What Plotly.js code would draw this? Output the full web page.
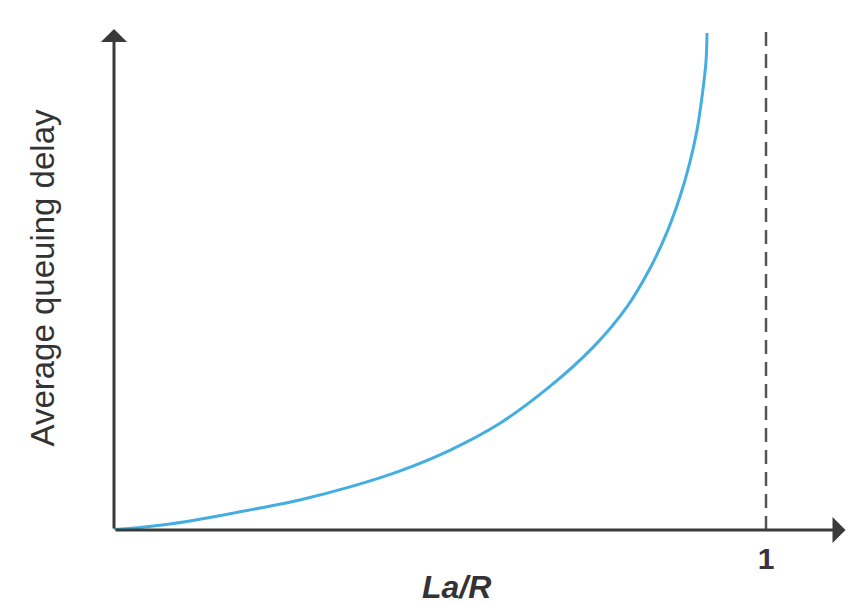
<!DOCTYPE html>
<html>
<head>
<meta charset="utf-8">
<script src="https://cdn.plot.ly/plotly-3.0.1.min.js"></script>
<style>html,body{margin:0;padding:0;background:#fff;}#chart{width:849px;height:605px;}</style>
</head>
<body>
<div id="chart"></div>
<script>
// Traffic intensity La/R
var intensity = [0.0, 0.040, 0.086, 0.147, 0.224, 0.285, 0.362, 0.439, 0.515, 0.592, 0.669, 0.735, 0.787, 0.822, 0.848, 0.868, 0.883, 0.894, 0.903, 0.908, 0.9095];
// Average queuing delay (arbitrary units)
var delay = [0.01, 0.05, 0.12, 0.25, 0.44, 0.60, 0.86, 1.18, 1.59, 2.13, 2.87, 3.65, 4.46, 5.22, 5.94, 6.65, 7.33, 7.97, 8.76, 9.36, 9.92];
// Capacity limit marker
var limitX = [1];
var limitLabels = ['1'];

var axisColor = '#3a3a3a';
var xMax = 1.1273, yMax = 10.06;

var traces = [{
  x: intensity, y: delay, type: 'scatter', mode: 'lines',
  line: {color: '#45aee0', width: 3, shape: 'spline', smoothing: 1},
  hoverinfo: 'x+y', showlegend: false
}];

var layout = {
  width: 849, height: 605,
  margin: {l: 114, r: 0, t: 26, b: 75, pad: 0},
  paper_bgcolor: '#ffffff', plot_bgcolor: '#ffffff',
  font: {family: 'Liberation Sans, Arial, sans-serif', color: '#333333'},
  showlegend: false,
  xaxis: {
    range: [0, xMax], showgrid: false, zeroline: false, showline: false,
    tickvals: limitX, ticktext: limitLabels, ticks: '', ticklabelstandoff: 8,
    tickfont: {size: 30, weight: 'bold', color: '#3a3340', family: 'Liberation Sans, Arial, sans-serif'},
    fixedrange: true
  },
  yaxis: {
    range: [0, yMax], showgrid: false, zeroline: false, showline: false,
    showticklabels: false, ticks: '', automargin: false,
    title: {text: 'Average queuing delay', standoff: 48,
      font: {size: 33, color: '#333333', family: 'Liberation Sans, Arial, sans-serif'}},
    fixedrange: true
  },
  shapes: [{
    type: 'line', xref: 'x', yref: 'y', x0: limitX[0], x1: limitX[0], y0: 0, y1: 10.02,
    line: {color: '#555555', width: 2.5, dash: '14px,8px'}
  }],
  annotations: [
    {xref: 'x', yref: 'y', axref: 'x', ayref: 'y', x: 0, y: 10.0, ax: 0, ay: 0,
     text: '', showarrow: true, arrowhead: 1, arrowsize: 1.45, arrowwidth: 3, arrowcolor: axisColor, standoff: 0},
    {xref: 'x', yref: 'y', axref: 'x', ayref: 'y', x: 1.122, y: 0, ax: 0, ay: 0,
     text: '', showarrow: true, arrowhead: 1, arrowsize: 1.45, arrowwidth: 3, arrowcolor: axisColor, standoff: 0},
    {xref: 'x', yref: 'paper', x: 0.526, y: 0, yshift: -57, yanchor: 'middle', xanchor: 'center',
     text: '<i>La/R</i>', showarrow: false,
     font: {size: 32, weight: 'bold', color: '#333333', family: 'Liberation Sans, Arial, sans-serif'}}
  ]
};

Plotly.newPlot('chart', traces, layout, {displayModeBar: false, staticPlot: true});
</script>
</body>
</html>
